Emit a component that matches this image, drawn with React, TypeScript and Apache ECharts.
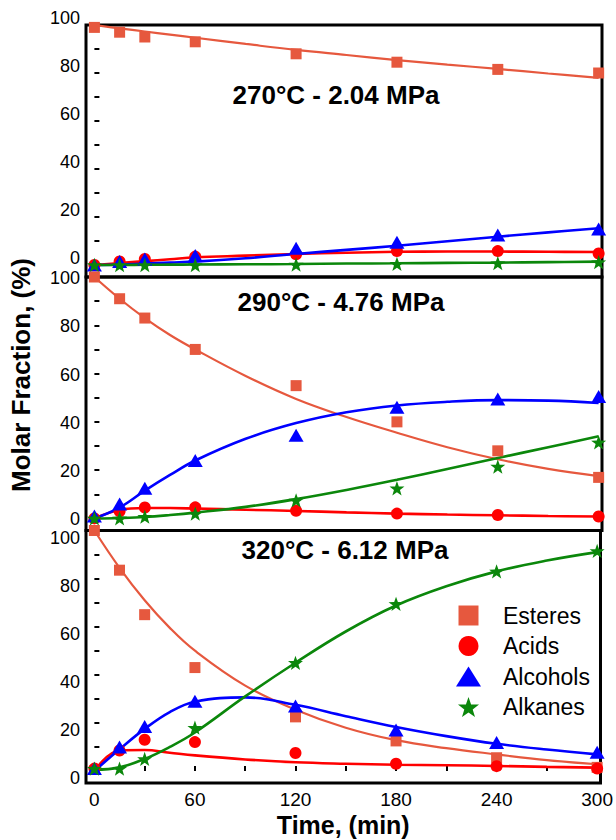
import React, { useEffect, useRef } from 'react';
import * as echarts from 'echarts';

// ---- data ----
const times = [0, 15, 30, 60, 120, 180, 240, 300];
const fitTimes = [0, 15, 30, 45, 60, 90, 120, 150, 180, 210, 240, 270, 300];

// 270 °C - 2.04 MPa
const esteres270 = [99, 97, 95, 93, 88, 84.5, 81.5, 80];
const acids270 = [0, 1.5, 2.5, 3.5, 4.5, 5.8, 5.8, 4.8];
const alcohols270 = [0, 1.5, 2.5, 4, 7, 9.5, 12.5, 15];
const alkanes270 = [0, 0, 0, 0, 0.2, 0.5, 0.8, 1.2];
const esteresFit270 = [100, 98.6, 97.3, 96, 94.7, 92.1, 89.6, 87.5, 85.4, 83.5, 81.7, 79.8, 78];
const acidsFit270 = [0, 0.8, 1.6, 2.4, 3.2, 3.9, 4.6, 5.1, 5.5, 5.6, 5.6, 5.5, 5.4];
const alcoholsFit270 = [0, 0.2, 0.6, 1, 1.4, 2.8, 4.6, 6.3, 8, 9.9, 11.8, 13.6, 15.3];
const alkanesFit270 = [0, 0, 0.1, 0.15, 0.2, 0.3, 0.4, 0.6, 0.7, 0.9, 1, 1.2, 1.4];

// 290 °C - 4.76 MPa
const esteres290 = [100, 91, 83, 70, 55, 40, 28, 17];
const acids290 = [0, 3, 4.5, 4.6, 3.2, 2, 1.4, 0.8];
const alcohols290 = [1, 6, 12.5, 24, 34.5, 46, 49.5, 50.5];
const alkanes290 = [0, 0, 0.7, 2, 7.5, 12.5, 21.5, 31.5];
const esteresFit290 = [100, 91, 83, 76, 70, 59, 49.5, 42, 35.5, 29.5, 24.5, 20.5, 17.5];
const acidsFit290 = [0, 3.5, 4.3, 4.3, 4.1, 3.6, 3.1, 2.5, 2, 1.6, 1.3, 1, 0.8];
const alcoholsFit290 = [0, 4.5, 11.5, 18, 24, 33, 39.5, 44, 46.8, 48.3, 49, 48.8, 47.8];
const alkanesFit290 = [0, 0.2, 0.6, 1.4, 2.4, 4.8, 8, 11.8, 16, 20.5, 25, 29.5, 34];

// 320 °C - 6.12 MPa
const esteres320 = [100, 83.5, 65, 43, 22.5, 12.5, 5.5, 1.5];
const acids320 = [1, 8.5, 13, 12, 7.5, 3, 2, 1];
const alcohols320 = [1, 10, 18.5, 29, 27, 17, 11.8, 7.8];
const alkanes320 = [1, 1, 5, 18, 45, 69.5, 83, 91.5];
const esteresFit320 = [100, 84.5, 71, 59.5, 50, 35.5, 25.5, 18, 12.8, 9.5, 6.9, 4.5, 2.8];
const acidsFit320 = [0, 8.5, 8.7, 7.6, 6.5, 4.8, 3.6, 3, 2.6, 2.4, 2.1, 1.7, 1.4];
const alcoholsFit320 = [0, 9, 17.5, 24.5, 28.8, 30.6, 27.5, 22.8, 18.3, 14.5, 11.3, 8.9, 6.9];
const alkanesFit320 = [0.5, 1.5, 5, 10, 16, 31, 45, 58, 68.8, 76.8, 83, 87.5, 91];

const yTicks = [0, 10, 20, 30, 40, 50, 60, 70, 80, 90, 100];
const yLabels = [0, 20, 40, 60, 80, 100];
const xTicks = [0, 30, 60, 90, 120, 150, 180, 210, 240, 270, 300];
const xLabels = [0, 60, 120, 180, 240, 300];
const panelTitles = ['270°C - 2.04 MPa', '290°C - 4.76 MPa', '320°C - 6.12 MPa'];
const seriesNames = ['Esteres', 'Acids', 'Alcohols', 'Alkanes'];

const panels = [
  { points: [esteres270, acids270, alcohols270, alkanes270], fits: [esteresFit270, acidsFit270, alcoholsFit270, alkanesFit270] },
  { points: [esteres290, acids290, alcohols290, alkanes290], fits: [esteresFit290, acidsFit290, alcoholsFit290, alkanesFit290] },
  { points: [esteres320, acids320, alcohols320, alkanes320], fits: [esteresFit320, acidsFit320, alcoholsFit320, alkanesFit320] },
];

// ---- styles ----
const FONT = '"Liberation Sans", Arial, Helvetica, sans-serif';
const STAR = 'path://M50,0L61.8,33.8L97.6,34.5L69,56.2L79.4,90.5L50,70L20.6,90.5L31,56.2L2.4,34.5L38.2,33.8Z';
const SQUARE = 'path://M0,0L10,0L10,10L0,10Z';
const colors = ['#E6583E', '#FF0000', '#0000FF', '#0B870B'];
const symbols = ['rect', 'circle', 'triangle', STAR];
const symbolSizes: any[] = [11, 12, [15, 13], 15];
const lineWidths = [2.2, 2.6, 2.6, 2.6];

const gridTops = [25, 277, 530.5];
const gridHeights = [252, 253.5, 252.5];
const titlePos = [[336, 95], [341, 302], [345, 550]];
// vertical shift of the y tick labels per panel (negative = up)
const labelShift = [-7, 1, 7];

export default function App() {
  const ref = useRef<HTMLDivElement>(null);
  useEffect(() => {
    if (!ref.current) return;
    const chart = echarts.init(ref.current, undefined, { renderer: 'svg' });

    const grid = gridTops.map((t, i) => ({
      left: 86, right: 14, top: t, height: gridHeights[i],
      show: true, borderColor: '#000', borderWidth: 3, backgroundColor: 'transparent',
    }));

    const xAxis = gridTops.map((_, i) => ({
      gridIndex: i, type: 'value', min: -5, max: 302,
      axisLine: { show: false }, splitLine: { show: false },
      axisTick: { show: i === 2, inside: true, length: 5, customValues: xTicks, lineStyle: { color: '#000', width: 2 } },
      axisLabel: { show: i === 2, customValues: xLabels, color: '#000', fontSize: 19, fontFamily: FONT, margin: 7 },
      name: i === 2 ? 'Time, (min)' : '',
      nameLocation: 'middle', nameGap: 29,
      nameTextStyle: { color: '#000', fontSize: 25, fontWeight: 'bold', fontFamily: FONT },
    }));

    const yAxis = gridTops.map((_, i) => {
      const s = labelShift[i];
      const shiftStyle: any = s === 0
        ? { verticalAlign: 'middle' }
        : { verticalAlign: s < 0 ? 'bottom' : 'top', lineHeight: Math.abs(s) * 2 };
      return {
        gridIndex: i, type: 'value', min: -5, max: 100,
        axisLine: { show: false }, splitLine: { show: false },
        axisTick: { show: true, inside: true, length: 5, customValues: yTicks, lineStyle: { color: '#000', width: 2 } },
        axisLabel: { customValues: yLabels, color: '#000', fontSize: 18, fontFamily: FONT, margin: 6, ...shiftStyle },
      };
    });

    const series: any[] = [];
    panels.forEach((p, i) => {
      p.fits.forEach((vals, k) => {
        series.push({
          type: 'line', name: seriesNames[k] + ' fit', xAxisIndex: i, yAxisIndex: i,
          data: fitTimes.map((t, j) => [t, vals[j]]),
          smooth: 0.4, showSymbol: false, symbol: 'none', z: 2,
          lineStyle: { color: colors[k], width: lineWidths[k] }, itemStyle: { color: colors[k] },
        });
      });
      p.points.forEach((vals, k) => {
        series.push({
          type: 'scatter', name: seriesNames[k], xAxisIndex: i, yAxisIndex: i,
          data: times.map((t, j) => [t, vals[j]]),
          symbol: symbols[k], symbolSize: symbolSizes[k], symbolKeepAspect: true, z: 3,
          itemStyle: { color: colors[k], opacity: 1 },
        });
      });
    });

    const graphic: any[] = panelTitles.map((txt, i) => ({
      type: 'text', x: titlePos[i][0], y: titlePos[i][1], z: 10,
      style: { text: txt, fill: '#000', fontSize: 26, fontWeight: 'bold', fontFamily: FONT, align: 'center', verticalAlign: 'middle' },
    }));
    graphic.push({
      type: 'text', x: 21, y: 375, rotation: Math.PI / 2, z: 10,
      style: { text: 'Molar Fraction, (%)', fill: '#000', fontSize: 26, fontWeight: 'bold', fontFamily: FONT, align: 'center', verticalAlign: 'middle' },
    });

    chart.setOption({
      animation: false,
      backgroundColor: '#fff',
      grid, xAxis, yAxis, series, graphic,
      legend: {
        orient: 'vertical', left: 451, top: 599, itemWidth: 25, itemHeight: 20, itemGap: 7.5,
        selectedMode: false,
        textStyle: { color: '#000', fontSize: 23, fontFamily: FONT, lineHeight: 23, padding: [0, 0, 0, 17] },
        data: [
          { name: 'Esteres', icon: SQUARE },
          { name: 'Acids', icon: 'circle' },
          { name: 'Alcohols', icon: 'triangle' },
          { name: 'Alkanes', icon: STAR },
        ],
      },
    });
    return () => chart.dispose();
  }, []);
  return <div ref={ref} style={{ position: 'absolute', left: 0, top: 0, width: 616, height: 840 }} />;
}
